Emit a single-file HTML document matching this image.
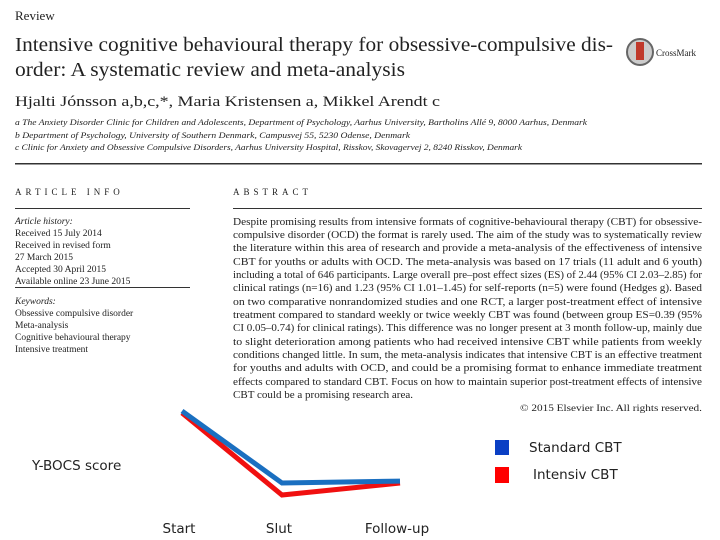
<!DOCTYPE html>
<html><head><meta charset="utf-8"><style>
html,body{margin:0;padding:0;background:#fff}
svg{display:block}
.s{font-family:"Liberation Serif",serif;fill:#222}
.c{font-family:"DejaVu Sans","Liberation Sans",sans-serif;fill:#222}
</style></head><body>
<svg width="720" height="540" viewBox="0 0 720 540">
<g>
<text class="s" x="15" y="20" font-size="13">Review</text>
<text class="s" x="15" y="51" font-size="20" textLength="598" lengthAdjust="spacingAndGlyphs">Intensive cognitive behavioural therapy for obsessive-compulsive dis-</text>
<text class="s" x="15" y="76" font-size="20" textLength="390" lengthAdjust="spacingAndGlyphs">order: A systematic review and meta-analysis</text>
<g>
<circle cx="640" cy="52" r="13" fill="#ccc" stroke="#666" stroke-width="2"/>
<rect x="636" y="42" width="8" height="18" fill="#c0392b"/>
<text class="s" x="656" y="56" font-size="9">CrossMark</text>
</g>
<text class="s" x="15" y="106" font-size="15" textLength="425" lengthAdjust="spacingAndGlyphs">Hjalti Jónsson a,b,c,*, Maria Kristensen a, Mikkel Arendt c</text>
<g font-style="italic" font-size="8" class="s">
<text x="15" y="125" textLength="572" lengthAdjust="spacingAndGlyphs">a The Anxiety Disorder Clinic for Children and Adolescents, Department of Psychology, Aarhus University, Bartholins Allé 9, 8000 Aarhus, Denmark</text>
<text x="15" y="138" textLength="395" lengthAdjust="spacingAndGlyphs">b Department of Psychology, University of Southern Denmark, Campusvej 55, 5230 Odense, Denmark</text>
<text x="15" y="150" textLength="507" lengthAdjust="spacingAndGlyphs">c Clinic for Anxiety and Obsessive Compulsive Disorders, Aarhus University Hospital, Risskov, Skovagervej 2, 8240 Risskov, Denmark</text>
</g>
<rect x="15" y="163" width="687" height="1.5" fill="#333"/>
<text class="s" x="15" y="195" font-size="9" letter-spacing="4">ARTICLE INFO</text>
<text class="s" x="233" y="195" font-size="9" letter-spacing="4">ABSTRACT</text>
<rect x="15" y="208" width="175" height="1" fill="#333"/>
<rect x="15" y="287" width="175" height="1" fill="#333"/>
<rect x="233" y="208" width="469" height="1" fill="#333"/>
<g class="s" font-size="9.5">
<text x="15" y="224" font-style="italic">Article history:</text>
<text x="15" y="236">Received 15 July 2014</text>
<text x="15" y="248">Received in revised form</text>
<text x="15" y="260">27 March 2015</text>
<text x="15" y="272">Accepted 30 April 2015</text>
<text x="15" y="284">Available online 23 June 2015</text>
<text x="15" y="304" font-style="italic">Keywords:</text>
<text x="15" y="316">Obsessive compulsive disorder</text>
<text x="15" y="328">Meta-analysis</text>
<text x="15" y="340">Cognitive behavioural therapy</text>
<text x="15" y="352">Intensive treatment</text>
</g>
<g class="s" font-size="10">
<text x="233" y="225" textLength="469" lengthAdjust="spacingAndGlyphs">Despite promising results from intensive formats of cognitive-behavioural therapy (CBT) for obsessive-</text>
<text x="233" y="238" textLength="469" lengthAdjust="spacingAndGlyphs">compulsive disorder (OCD) the format is rarely used. The aim of the study was to systematically review</text>
<text x="233" y="251" textLength="469" lengthAdjust="spacingAndGlyphs">the literature within this area of research and provide a meta-analysis of the effectiveness of intensive</text>
<text x="233" y="265" textLength="469" lengthAdjust="spacingAndGlyphs">CBT for youths or adults with OCD. The meta-analysis was based on 17 trials (11 adult and 6 youth)</text>
<text x="233" y="278" textLength="469" lengthAdjust="spacingAndGlyphs">including a total of 646 participants. Large overall pre–post effect sizes (ES) of 2.44 (95% CI 2.03–2.85) for</text>
<text x="233" y="291" textLength="469" lengthAdjust="spacingAndGlyphs">clinical ratings (n=16) and 1.23 (95% CI 1.01–1.45) for self-reports (n=5) were found (Hedges g). Based</text>
<text x="233" y="305" textLength="469" lengthAdjust="spacingAndGlyphs">on two comparative nonrandomized studies and one RCT, a larger post-treatment effect of intensive</text>
<text x="233" y="318" textLength="469" lengthAdjust="spacingAndGlyphs">treatment compared to standard weekly or twice weekly CBT was found (between group ES=0.39 (95%</text>
<text x="233" y="331" textLength="469" lengthAdjust="spacingAndGlyphs">CI 0.05–0.74) for clinical ratings). This difference was no longer present at 3 month follow-up, mainly due</text>
<text x="233" y="345" textLength="469" lengthAdjust="spacingAndGlyphs">to slight deterioration among patients who had received intensive CBT while patients from weekly</text>
<text x="233" y="358" textLength="469" lengthAdjust="spacingAndGlyphs">conditions changed little. In sum, the meta-analysis indicates that intensive CBT is an effective treatment</text>
<text x="233" y="371" textLength="469" lengthAdjust="spacingAndGlyphs">for youths and adults with OCD, and could be a promising format to enhance immediate treatment</text>
<text x="233" y="385" textLength="469" lengthAdjust="spacingAndGlyphs">effects compared to standard CBT. Focus on how to maintain superior post-treatment effects of intensive</text>
<text x="233" y="398" textLength="180" lengthAdjust="spacingAndGlyphs">CBT could be a promising research area.</text>
<text x="520" y="411" font-size="9" textLength="182" lengthAdjust="spacingAndGlyphs">© 2015 Elsevier Inc. All rights reserved.</text>
</g>
</g>
<g id="chart">
<text class="c" x="32" y="470" font-size="13.5">Y-BOCS score</text>
<rect x="495" y="440" width="14" height="15" fill="#0a3fc4"/>
<text class="c" x="529" y="452" font-size="13.5">Standard CBT</text>
<rect x="495" y="467" width="14" height="16" fill="#f00"/>
<text class="c" x="533" y="479" font-size="13.5">Intensiv CBT</text>
</g>
</svg>
<script>
const categories = ["Start", "Slut", "Follow-up"];
const standardValues = [30, 15, 15.4];
const intensiveValues = [29.6, 12.5, 15];
const ns = "http://www.w3.org/2000/svg";
const chart = document.getElementById("chart");
function xScale(i){ return [182, 282, 400][i]; }
function yScale(v){ return 411 + (30 - v) * 4.8; }
function drawLine(vals, color, name){
  const p = document.createElementNS(ns, "polyline");
  p.setAttribute("points", vals.map((v,i)=>xScale(i)+","+yScale(v)).join(" "));
  p.setAttribute("fill", "none");
  p.setAttribute("stroke", color);
  p.setAttribute("stroke-width", "5");
  
  
  chart.appendChild(p);
}
drawLine(intensiveValues, "#f01010", "series-intensive-cbt");
drawLine(standardValues, "#1a6fc0", "series-standard-cbt");
categories.forEach((c,i)=>{
  const t = document.createElementNS(ns, "text");
  t.setAttribute("x", xScale(i) - 3);
  t.setAttribute("y", 533);
  t.setAttribute("text-anchor", "middle");
  t.setAttribute("class", "c");
  t.setAttribute("font-size", "13.5");
  t.textContent = c;
  
  
  chart.appendChild(t);
});
</script>
</body></html>
